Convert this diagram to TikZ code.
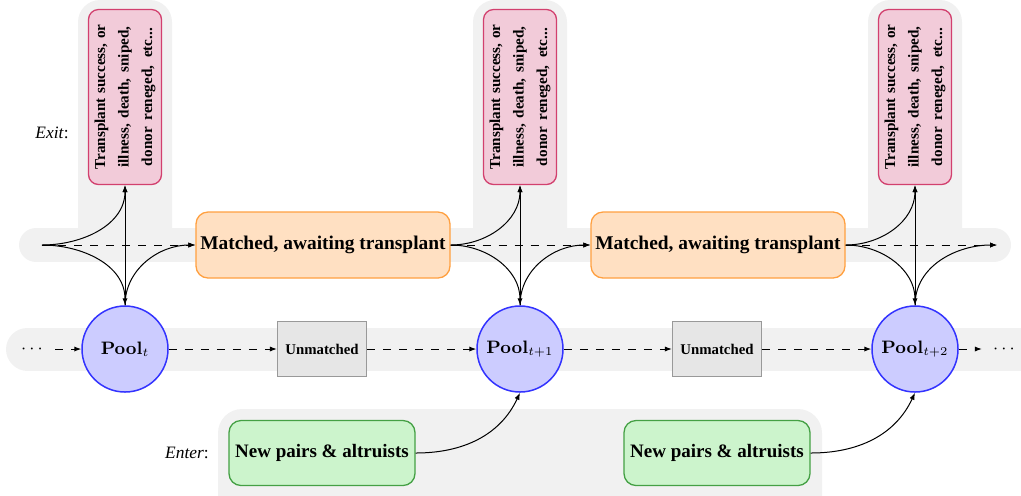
\documentclass[tikz,border=0pt]{standalone}
\usepackage[no-math]{fontspec}
\setmainfont{Liberation Serif}
\usetikzlibrary{arrows.meta}
\definecolor{bandgray}{HTML}{F1F1F1}
\definecolor{poolf}{HTML}{CCCCFF}
\definecolor{poolb}{HTML}{3333FF}
\definecolor{exitf}{HTML}{F2CBD9}
\definecolor{exitb}{HTML}{D2406E}
\definecolor{matchf}{HTML}{FFE0C2}
\definecolor{matchb}{HTML}{FFA040}
\definecolor{unmf}{HTML}{E6E6E6}
\definecolor{unmb}{HTML}{999999}
\definecolor{newf}{HTML}{CCF4CC}
\definecolor{newb}{HTML}{44A044}
\tikzset{
 pool/.style={circle, draw=poolb, fill=poolf, line width=0.75pt, minimum size=43pt, inner sep=0pt, font=\fontsize{8.8}{10}\selectfont},
 exitbox/.style={rounded corners=5pt, draw=exitb, fill=exitf, line width=0.65pt, rotate=90, minimum width=87.5pt, minimum height=36.5pt, inner sep=0pt, align=center, font=\fontsize{7.6}{11.75}\selectfont\bfseries},
 matchbox/.style={rounded corners=6pt, draw=matchb, fill=matchf, line width=0.65pt, minimum width=127pt, minimum height=33pt, inner sep=0pt, font=\fontsize{9.7}{11}\selectfont\bfseries},
 unmbox/.style={draw=unmb, fill=unmf, line width=0.65pt, minimum width=44.5pt, minimum height=27.5pt, inner sep=0pt, font=\fontsize{7.4}{9}\selectfont\bfseries},
 newbox/.style={rounded corners=6pt, draw=newb, fill=newf, line width=0.65pt, minimum width=93pt, minimum height=32.5pt, inner sep=0pt, font=\fontsize{9.5}{11}\selectfont\bfseries},
 arr/.style={-{Latex[length=3.5pt,width=2.6pt]}, line width=0.5pt},
 darr/.style={arr, dash pattern=on 4pt off 4pt},
 lbl/.style={font=\fontsize{8.7}{10}\selectfont},
 dotsnode/.style={inner sep=0pt, font=\fontsize{8.7}{10}\selectfont}
}
\newcommand{\exittext}{\makebox[72.5pt][s]{Transplant success, or}\\\makebox[70.5pt][s]{illness, death, sniped,}\\\makebox[69pt][s]{donor reneged, etc...}}
\begin{document}
\begin{tikzpicture}[x=0.5pt,y=-0.5pt]
\clip (0,0) rectangle (1021,495);
% background bands
\foreach \cx in {125,520,915}{
  \fill[bandgray, rounded corners=11pt] (\cx-47,0) rectangle (\cx+47,250);
  \fill[bandgray] (\cx-47,200) rectangle (\cx+47,250);
}
\draw[bandgray, line width=17pt, line cap=round] (36,245) -- (994,245);
\draw[bandgray, line width=21.5pt, line cap=round] (27.5,349) -- (1060,349);
\fill[bandgray, rounded corners=12pt] (218,409) rectangle (822,540);

% nodes
\node[pool] (p1) at (125,349) {$\mathbf{Pool}_{t}$};
\node[pool] (p2) at (520,349) {$\mathbf{Pool}_{t+1}$};
\node[pool] (p3) at (915,349) {$\mathbf{Pool}_{t+2}$};
\node[unmbox] (u1) at (322,349) {Unmatched};
\node[unmbox] (u2) at (717,349) {Unmatched};
\node[matchbox] (m1) at (323,245) {Matched, awaiting transplant};
\node[matchbox] (m2) at (718,245) {Matched, awaiting transplant};
\node[exitbox] (x1) at (125,97) {\exittext};
\node[exitbox] (x2) at (520,97) {\exittext};
\node[exitbox] (x3) at (915,97) {\exittext};
\node[newbox] (n1) at (322,453) {New pairs \& altruists};
\node[newbox] (n2) at (717,453) {New pairs \& altruists};
\node[lbl] (exitlbl) at (52,133) {\textit{Exit}:};
\node[lbl] (enterlbl) at (187,453) {\textit{Enter}:};
\node[dotsnode] (ld) at (32,349) {$\cdots$};
\node[dotsnode] (rd) at (1004,349) {$\cdots$};
\coordinate (s0) at (42,245);
\coordinate (e3) at (997,245);

% upper connectors
\draw[arr] (s0) to[out=0,in=-90] (x1.west);
\draw[arr] (s0) to[out=0,in=90] (p1.north);
\draw[darr] (s0) -- (m1.west);
\draw[arr] (p1.north) -- (x1.west);
\draw[arr] (p1.north) to[out=90,in=180] (m1.west);

\draw[arr] (m1.east) to[out=0,in=-90] (x2.west);
\draw[arr] (m1.east) to[out=0,in=90] (p2.north);
\draw[darr] (m1.east) -- (m2.west);
\draw[arr] (p2.north) -- (x2.west);
\draw[arr] (p2.north) to[out=90,in=180] (m2.west);

\draw[arr] (m2.east) to[out=0,in=-90] (x3.west);
\draw[arr] (m2.east) to[out=0,in=90] (p3.north);
\draw[darr] (m2.east) -- (e3);
\draw[arr] (p3.north) -- (x3.west);
\draw[arr] (p3.north) to[out=90,in=180] (e3);

% lower connectors
\draw[darr, shorten <=6pt] (ld.east) -- (p1.west);
\draw[darr] (p1.east) -- (u1.west);
\draw[darr] (u1.east) -- (p2.west);
\draw[darr] (p2.east) -- (u2.west);
\draw[darr] (u2.east) -- (p3.west);
\draw[darr, shorten >=5.5pt] (p3.east) -- (rd.west);

% enter connectors
\draw[arr] (n1.east) to[out=0,in=-115] (p2.south);
\draw[arr] (n2.east) to[out=0,in=-115] (p3.south);
\end{tikzpicture}
\end{document}
